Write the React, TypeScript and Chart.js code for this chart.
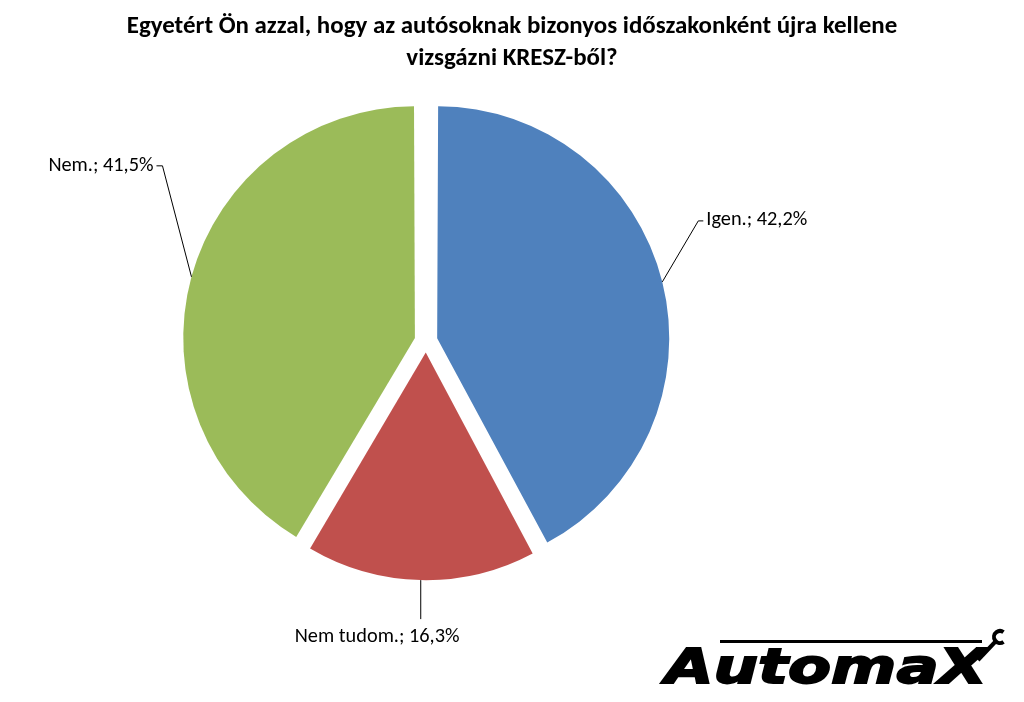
import React, { useEffect, useRef } from "react";
import { Chart, registerables } from "chart.js";

Chart.register(...registerables);

const titleLines = [
  "Egyetért Ön azzal, hogy az autósoknak bizonyos időszakonként újra kellene",
  "vizsgázni KRESZ-ből?",
];
const categories = ["Igen.", "Nem tudom.", "Nem."];
const values = [42.2, 16.3, 41.5];
const colors = ["#4F81BD", "#C0504D", "#9BBB59"];
const brand = "AutomaX";

const fmt = (v: number) => v.toFixed(1).replace(".", ",") + "%";

// label leader geometry relative to the slice's outer anchor point
const labelLayout = [
  { elbow: [36, -61], end: [41, -61], text: [44, -62], align: "left" as CanvasTextAlign },
  { elbow: [0, 39], end: [0, 39], text: [-126, 57], align: "left" as CanvasTextAlign },
  { elbow: [-29, -111], end: [-35, -111], text: [-38, -111], align: "right" as CanvasTextAlign },
];

const OFFSET = 46;
const FONT = "Carlito, Lato, 'Liberation Sans', sans-serif";

function fitFont(ctx: CanvasRenderingContext2D, text: string, weight: string, family: string, target: number) {
  ctx.font = `${weight} 20px ${family}`;
  const w = ctx.measureText(text).width;
  return (20 * target) / w;
}

const decorPlugin = {
  id: "decor",
  afterDraw(chart: any) {
    const ctx: CanvasRenderingContext2D = chart.ctx;
    ctx.save();
    // title
    ctx.fillStyle = "#000";
    ctx.textAlign = "center";
    ctx.textBaseline = "alphabetic";
    const ts = fitFont(ctx, titleLines[0], "bold", FONT, 771);
    ctx.font = `bold ${ts}px ${FONT}`;
    ctx.fillText(titleLines[0], 512, 33);
    ctx.fillText(titleLines[1], 512, 65);

    // data labels
    const meta = chart.getDatasetMeta(0);
    const ls = fitFont(ctx, categories[0] + "; " + fmt(values[0]), "normal", FONT, 101);
    ctx.font = `${ls}px ${FONT}`;
    meta.data.forEach((el: any, i: number) => {
      const { x, y, startAngle, endAngle, outerRadius } = el.getProps(
        ["x", "y", "startAngle", "endAngle", "outerRadius"],
        true
      );
      const mid = (startAngle + endAngle) / 2;
      const circ = endAngle - startAngle;
      const t = OFFSET / 4;
      const fix = 1 - Math.sin(Math.min(Math.PI, circ));
      const r = t + outerRadius + t * fix;
      const ax = x + Math.cos(mid) * r;
      const ay = y + Math.sin(mid) * r;
      const L = labelLayout[i];
      ctx.strokeStyle = "#000";
      ctx.lineWidth = 1;
      ctx.beginPath();
      ctx.moveTo(ax, ay);
      ctx.lineTo(ax + L.elbow[0], ay + L.elbow[1]);
      ctx.lineTo(ax + L.end[0], ay + L.end[1]);
      ctx.stroke();
      ctx.fillStyle = "#000";
      ctx.textAlign = L.align;
      ctx.textBaseline = "alphabetic";
      ctx.fillText(`${categories[i]}; ${fmt(values[i])}`, ax + L.text[0], ay + L.text[1] + 5);
    });

    // brand logo
    ctx.save();
    ctx.fillStyle = "#000";
    ctx.strokeStyle = "#000";
    ctx.textAlign = "left";
    const bf = "'DejaVu Sans'";
    ctx.font = `italic 900 40px ${bf}`;
    const bw = ctx.measureText(brand).width;
    ctx.translate(665, 683);
    ctx.scale(322 / bw, 1.2);
    ctx.lineWidth = 1.5;
    ctx.fillText(brand, 0, 0);
    ctx.strokeText(brand, 0, 0);
    ctx.restore();
    ctx.fillStyle = "#000";
    ctx.fillRect(720, 640, 262, 3);
    // wrench hint
    ctx.strokeStyle = "#000";
    ctx.lineWidth = 4;
    ctx.beginPath();
    ctx.moveTo(978, 660);
    ctx.lineTo(996, 641);
    ctx.stroke();
    ctx.beginPath();
    ctx.arc(1000, 637, 6, Math.PI * 0.3, Math.PI * 1.7);
    ctx.stroke();
    ctx.restore();
  },
};

export default function App() {
  const ref = useRef<HTMLCanvasElement | null>(null);
  useEffect(() => {
    if (!ref.current) return;
    const chart = new Chart(ref.current, {
      type: "pie",
      data: {
        labels: categories,
        datasets: [
          {
            data: values,
            backgroundColor: colors,
            borderWidth: 0,
            offset: OFFSET,
          } as any,
        ],
      },
      options: {
        responsive: false,
        animation: false,
        radius: 226,
        layout: { padding: { left: 100, right: 272, top: 60, bottom: 80 } },
        plugins: {
          legend: { display: false },
          title: { display: false },
          tooltip: { enabled: false },
        },
      } as any,
      plugins: [decorPlugin],
    });
    return () => chart.destroy();
  }, []);
  return (
    <div style={{ position: "absolute", left: 0, top: 0, width: 1024, height: 702, background: "#fff" }}>
      <canvas ref={ref} width={1024} height={702} style={{ display: "block" }} />
    </div>
  );
}
